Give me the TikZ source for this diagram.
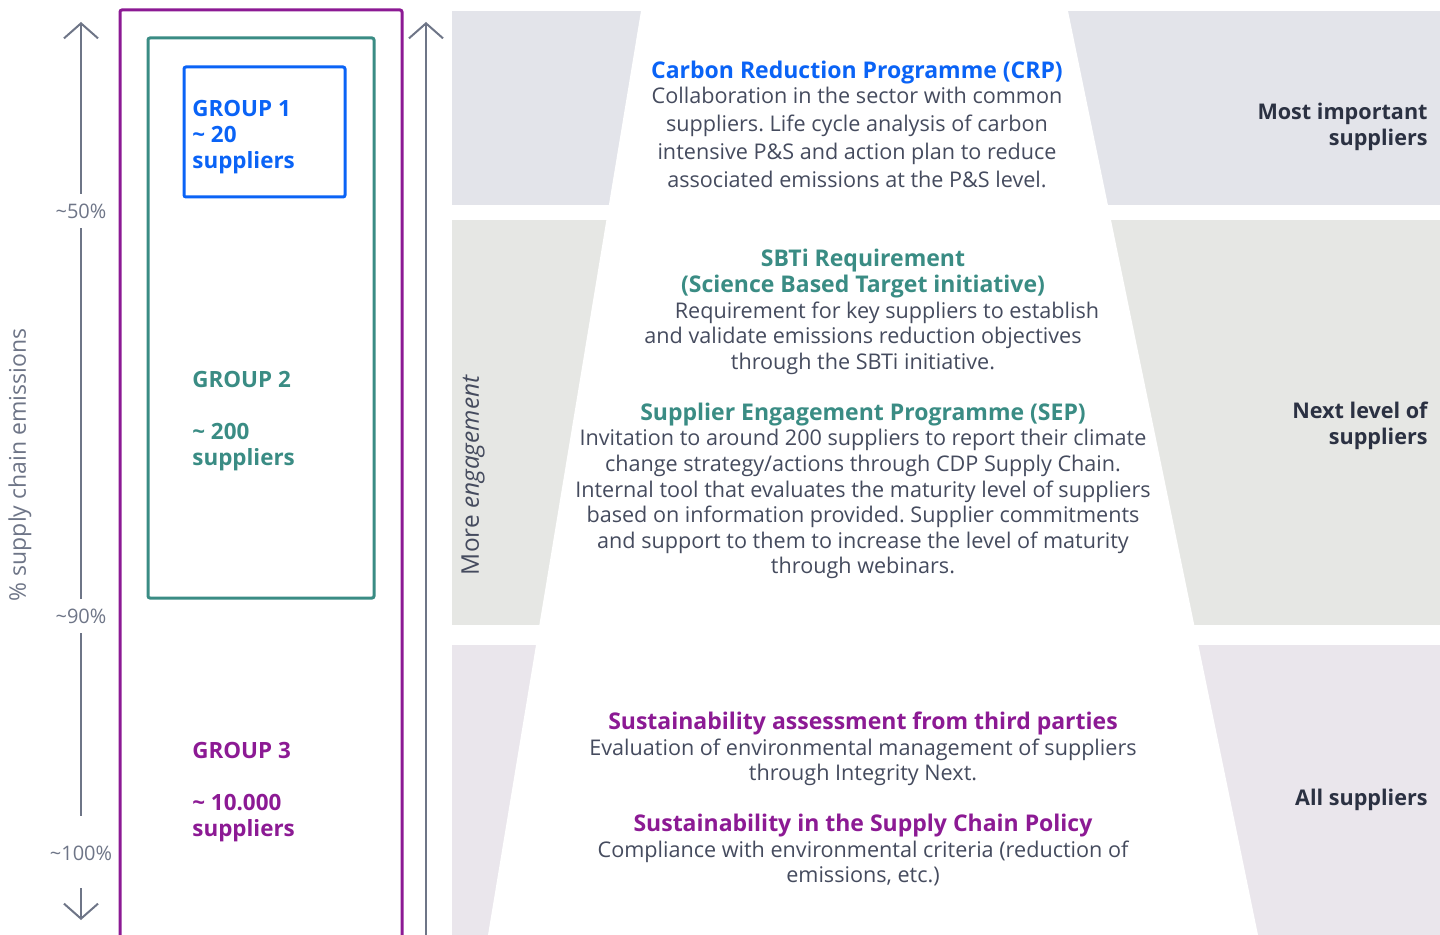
\documentclass[tikz,border=0pt]{standalone}
\usepackage{fontspec}
\setmainfont{Open Sans}
\usetikzlibrary{arrows.meta}
\definecolor{cblue}{HTML}{0A63F6}
\definecolor{cteal}{HTML}{3A8C84}
\definecolor{cpurple}{HTML}{8C1A94}
\definecolor{cbody}{HTML}{454B5E}
\definecolor{cdark}{HTML}{2B3142}
\definecolor{cline}{HTML}{6E7587}
\definecolor{bandA}{HTML}{E3E4EA}
\definecolor{bandB}{HTML}{E6E7E4}
\definecolor{bandC}{HTML}{EAE6EC}
\newcommand{\hdfnt}{\bfseries\fontsize{11.5}{12.8}\selectfont}
\frenchspacing
\begin{document}
\begin{tikzpicture}[x=0.5pt,y=-0.5pt,
  body/.style={text=cbody,align=center,inner sep=0pt,font=\fontsize{10.8}{12.8}\selectfont},
  grp/.style={anchor=west,align=left,inner sep=0pt,font=\bfseries\fontsize{11.2}{13}\selectfont},
  side/.style={anchor=east,align=right,inner sep=0pt,text=cdark,font=\bfseries\fontsize{10.8}{12.8}\selectfont},
  pct/.style={text=cline,inner sep=2pt,outer sep=3pt,font=\fontsize{10}{11}\selectfont},
  axis/.style={draw=cline,line width=1pt},
  arr/.style={axis,-{Straight Barb[length=7.5pt,width=17pt,line width=1pt]}},
  box/.style={line width=1.5pt,rounded corners=1pt}]
\useasboundingbox (0,0) rectangle (1440,935);
% bands
\fill[bandA] (452,11) rectangle (1440,205);
\fill[bandB] (452,220) rectangle (1440,625);
\fill[bandC] (452,645) rectangle (1440,935);
\fill[white] (641,11) -- (1068,11) -- (1258,935) -- (488,935) -- cycle;
% boxes
\draw[box,cpurple] (120,935) -- (120,10) -- (402,10) -- (402,935);
\draw[box,cteal] (148,38) rectangle (374,598);
\draw[box,cblue] (184,67) rectangle (345,197);
% left axis
\coordinate (ltop) at (81,22);
\coordinate (lbot) at (81,920);
\coordinate (ldown) at (81,888);
\node[pct] (p50) at (81,211) {\textasciitilde 50\%};
\node[pct] (p90) at (81,616) {\textasciitilde 90\%};
\node[pct] (p100) at (81,853) {\textasciitilde 100\%};
\draw[arr] (p50) -- (ltop);
\draw[axis] (p50) -- (p90);
\draw[axis,shorten >=10pt] (p90) -- (p100);
\draw[arr] (ldown) -- (lbot);
\node[rotate=90,text=cline,font=\fontsize{11.5}{12}\selectfont] (ylab) at (20,465) {\% supply chain emissions};
% engagement axis
\coordinate (etop) at (426,22);
\coordinate (ebot) at (426,935);
\draw[arr] (ebot) -- (etop);
\node[rotate=90,text=cbody,font=\fontsize{12.2}{13}\selectfont] (eng) at (473,475) {More \textit{engagement}};
% groups
\node[grp,text=cblue] (g1) at (192,137) {GROUP 1\\\textasciitilde{} 20\\suppliers};
\node[grp,text=cteal] (g2) at (192,421) {GROUP 2\\[12.8pt]\textasciitilde{} 200\\suppliers};
\node[grp,text=cpurple] (g3) at (192,792) {GROUP 3\\[12.8pt]\textasciitilde{} 10.000\\suppliers};
% center texts
\node[body,font=\fontsize{10.8}{14}\selectfont] (crp) at (857,124) {{\hdfnt\color{cblue}Carbon Reduction Programme (CRP)}\\[-1.5pt]
Collaboration in the sector with common\\
suppliers. Life cycle analysis of carbon\\
intensive P\&S and action plan to reduce\\
associated emissions at the P\&S level.};
\node[body] (sbti) at (863,312) {{\hdfnt\color{cteal}SBTi Requirement}\\
{\hdfnt\color{cteal}(Science Based Target initiative)}\\
\hspace*{24pt}Requirement for key suppliers to establish\\
and validate emissions reduction objectives\\
through the SBTi initiative.};
\node[body] (sep) at (863,491) {{\hdfnt\color{cteal}Supplier Engagement Programme (SEP)}\\
Invitation to around 200 suppliers to report their climate\\
change strategy/actions through CDP Supply Chain.\\
Internal tool that evaluates the maturity level of suppliers\\
based on information provided. Supplier commitments\\
and support to them to increase the level of maturity\\
through webinars.};
\node[body] (tp) at (863,749) {{\hdfnt\color{cpurple}Sustainability assessment from third parties}\\
Evaluation of environmental management of suppliers\\
through Integrity Next.};
\node[body] (pol) at (863,850) {{\hdfnt\color{cpurple}Sustainability in the Supply Chain Policy}\\
Compliance with environmental criteria (reduction of\\
emissions, etc.)};
% side labels
\node[side] (s1) at (1428,127) {Most important\\suppliers};
\node[side] (s2) at (1428,426) {Next level of\\suppliers};
\node[side] (s3) at (1428,800) {All suppliers};
\end{tikzpicture}
\end{document}
